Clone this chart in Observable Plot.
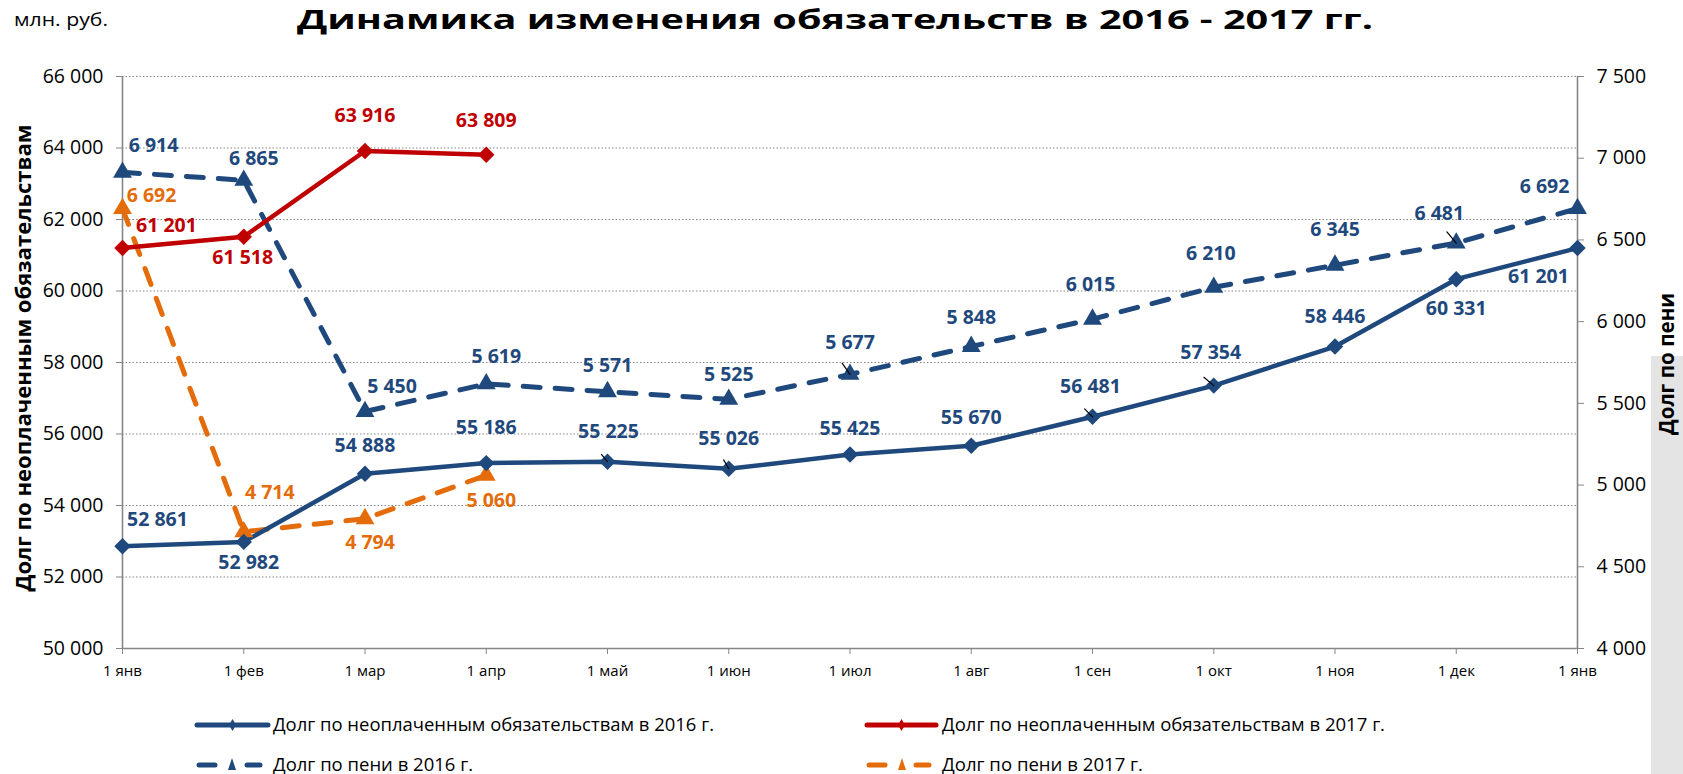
<!DOCTYPE html>
<html><head><meta charset="utf-8">
<script src="https://cdn.jsdelivr.net/npm/d3@7"></script>
<script src="https://cdn.jsdelivr.net/npm/@observablehq/plot@0.6"></script>
<style>
html,body{margin:0;padding:0;background:#fff;overflow:hidden}
#chart{position:relative;width:1683px;height:774px}
</style></head><body><div id="chart"></div>
<script>
// ---- data ----
const months = ["1 янв","1 фев","1 мар","1 апр","1 май","1 июн","1 июл","1 авг","1 сен","1 окт","1 ноя","1 дек","1 янв"];
const debt2016 = [52861, 52982, 54888, 55186, 55225, 55026, 55425, 55670, 56481, 57354, 58446, 60331, 61201];
const debt2017 = [61201, 61518, 63916, 63809];
const fine2016 = [6914, 6865, 5450, 5619, 5571, 5525, 5677, 5848, 6015, 6210, 6345, 6481, 6692];
const fine2017 = [6692, 4714, 4794, 5060];
const leftTicks = [50000, 52000, 54000, 56000, 58000, 60000, 62000, 64000, 66000];
const rightTicks = [4000, 4500, 5000, 5500, 6000, 6500, 7000, 7500];
const legendLabels = [
  "Долг по неоплаченным обязательствам в 2016 г.",
  "Долг по неоплаченным обязательствам в 2017 г.",
  "Долг по пени в 2016 г.",
  "Долг по пени в 2017 г."
];
const titleText = "Динамика изменения обязательств в 2016 - 2017 гг.";
const unitText = "млн. руб.";
const leftTitle = "Долг по неоплаченным обязательствам";
const rightTitle = "Долг по пени";

// ---- label offsets (px) ----
const debt2016Off = [[35,-26],[5,21],[0,-28],[0,-35],[1,-30],[0,-30],[0,-26],[0,-28],[-2,-30],[-3,-33],[0,-30],[0,30],[-39,29]];
const debt2017Off = [[44,-22],[-1,21],[0,-35],[0,-34]];
const fine2016Off = [[31,-27],[10,-22],[27,-25],[10,-27],[0,-26],[0,-25],[0,-32],[0,-29],[-2,-34],[-3,-34],[0,-36],[-17,-29],[-33,-22]];
const fine2017Off = [[29,-13],[26,-39],[5,24],[5,25]];
const leaders = [
  {s:"d16", i:4, len:11, rot:140}, {s:"d16", i:5, len:12, rot:150},
  {s:"f16", i:6, len:16, rot:145}, {s:"d16", i:8, len:13, rot:135},
  {s:"d16", i:9, len:15, rot:130}, {s:"f16", i:11, len:17, rot:140}
];

// ---- styles ----
const BLUE = "#1F497D", RED = "#C00000", ORANGE = "#E46C0A", GRAY = "#868686";
const FONT = "'Open Sans', 'Noto Sans', sans-serif";
const W = 1683, H = 774;
const L = [50000, 66000], R = [4000, 7500];
const toLeft = v => L[0] + (v - R[0]) * (L[1] - L[0]) / (R[1] - R[0]);
const fromLeft = v => R[0] + (v - L[0]) * (R[1] - R[0]) / (L[1] - L[0]);
const fmt = v => d3.format(",")(Math.round(v)).replace(/,/g, " ");

function rows(values, fine, key) { return values.map((v, i) => ({key, i, v, y: fine ? toLeft(v) : v})); }
const d16 = rows(debt2016, false, "d16");
const d17 = rows(debt2017, false, "d17");
const f16 = rows(fine2016, true, "f16");
const f17 = rows(fine2017, true, "f17");
const byKey = {d16, d17, f16, f17};

function labelMarks(data, offs, color) {
  return data.map((d, k) => Plot.text([d], {
    x: "i", y: "y", text: d => fmt(d.v), dx: offs[k][0], dy: offs[k][1],
    fill: color, fontWeight: "bold", fontSize: 19.5, fontFamily: FONT
  }));
}

const lineShape = { draw(context, l) { context.moveTo(0, 0); context.lineTo(0, -l); } };
const leaderData = leaders.map(l => ({...byKey[l.s][l.i], len: l.len, rot: l.rot}));

const chart = Plot.plot({
  width: W, height: H,
  marginTop: 76, marginBottom: H - 648, marginLeft: 122, marginRight: W - 1577,
  style: {fontFamily: FONT, fontSize: "18px", background: "white", color: "black", overflow: "visible"},
  x: {type: "linear", domain: [0, 12]},
  y: {domain: L},
  marks: [
    Plot.gridY(leftTicks.slice(1), {stroke: GRAY, strokeOpacity: 1, strokeWidth: 1, strokeDasharray: "1.5,2"}),
    Plot.ruleY([L[0]], {stroke: GRAY, strokeWidth: 1.6}),
    Plot.ruleX([0, 12], {stroke: GRAY, strokeWidth: 1.6}),
    Plot.axisY(leftTicks, {anchor: "left", tickSize: 6, tickPadding: 13, stroke: GRAY, fill: "black",
      tickFormat: fmt, fontSize: 19.5, label: null}),
    Plot.axisY(rightTicks.map(toLeft), {anchor: "right", tickSize: 6, tickPadding: 13, stroke: GRAY, fill: "black",
      tickFormat: d => fmt(fromLeft(d)), fontSize: 19.5, label: null}),
    Plot.axisX(d3.range(13), {anchor: "bottom", tickSize: 6, tickPadding: 11, stroke: GRAY, fill: "black",
      tickFormat: i => months[i], fontSize: 15, label: null}),
    // lines
    Plot.line(f16, {x: "i", y: "y", stroke: BLUE, strokeWidth: 5, strokeDasharray: "17,15", strokeLinecap: "round"}),
    Plot.line(f17, {x: "i", y: "y", stroke: ORANGE, strokeWidth: 5, strokeDasharray: "17,15", strokeLinecap: "round"}),
    Plot.line(d16, {x: "i", y: "y", stroke: BLUE, strokeWidth: 4.5, strokeLinejoin: "round"}),
    Plot.line(d17, {x: "i", y: "y", stroke: RED, strokeWidth: 4.5, strokeLinejoin: "round"}),
    Plot.dot(f16, {x: "i", y: "y", symbol: "triangle", r: 7, fill: BLUE}),
    Plot.dot(f17, {x: "i", y: "y", symbol: "triangle", r: 7, fill: ORANGE}),
    Plot.dot(d16, {x: "i", y: "y", symbol: "diamond2", r: 7.4, fill: BLUE}),
    Plot.dot(d17, {x: "i", y: "y", symbol: "diamond2", r: 7.4, fill: RED}),
    Plot.vector(leaderData, {x: "i", y: "y", length: "len", rotate: "rot", anchor: "end", shape: lineShape,
      stroke: "black", strokeWidth: 1.2}),
    ...labelMarks(d16, debt2016Off, BLUE),
    ...labelMarks(d17, debt2017Off, RED),
    ...labelMarks(f16, fine2016Off, BLUE),
    ...labelMarks(f17, fine2017Off, ORANGE)
  ]
});

const svg = d3.select(chart);
// gray panel at right (behind everything)
svg.insert("rect", ":first-child").attr("x", 1651).attr("y", 356).attr("width", 32).attr("height", H - 356).attr("fill", "#e4e4e4");
svg.insert("rect", ":first-child").attr("x", 0).attr("y", 0).attr("width", W).attr("height", H).attr("fill", "white");

const ann = svg.append("g").attr("font-family", FONT);
ann.append("text").attr("x", 835).attr("y", 29).attr("text-anchor", "middle")
  .attr("font-size", 27).attr("font-weight", "bold").attr("fill", "black")
  .attr("textLength", 1076).attr("lengthAdjust", "spacingAndGlyphs").text(titleText);
ann.append("text").attr("x", 14).attr("y", 26).attr("text-anchor", "start").attr("font-size", 18).attr("fill", "black")
  .attr("textLength", 94).attr("lengthAdjust", "spacingAndGlyphs").text(unitText);
ann.append("text").attr("transform", "translate(31,358) rotate(-90)").attr("text-anchor", "middle")
  .attr("font-size", 22).attr("font-weight", "bold").attr("fill", "black")
  .attr("textLength", 467).attr("lengthAdjust", "spacingAndGlyphs").text(leftTitle);
ann.append("text").attr("transform", "translate(1674,364) rotate(-90)").attr("text-anchor", "middle")
  .attr("font-size", 22).attr("font-weight", "bold").attr("fill", "black")
  .attr("textLength", 142).attr("lengthAdjust", "spacingAndGlyphs").text(rightTitle);

// legend
const leg = svg.append("g").attr("font-family", FONT);
const legendItems = [
  {x: 197, x2: 268, tx: 273, tw: 441, y: 725, color: BLUE, dashed: false},
  {x: 867, x2: 936, tx: 942, tw: 443, y: 725, color: RED, dashed: false},
  {x: 197, x2: 262, tx: 273, tw: 200, y: 765, color: BLUE, dashed: true},
  {x: 867, x2: 931, tx: 942, tw: 201, y: 765, color: ORANGE, dashed: true}
];
legendItems.forEach((it, k) => {
  const cx = (it.x + it.x2) / 2;
  if (!it.dashed) {
    leg.append("line").attr("x1", it.x).attr("x2", it.x2).attr("y1", it.y).attr("y2", it.y)
      .attr("stroke", it.color).attr("stroke-width", 5).attr("stroke-linecap", "round");
    leg.append("path").attr("d", "M0,-6L3.5,0L0,6L-3.5,0Z").attr("transform", `translate(${cx},${it.y})`).attr("fill", it.color);
  } else {
    leg.append("line").attr("x1", it.x + 2).attr("x2", it.x + 18).attr("y1", it.y).attr("y2", it.y)
      .attr("stroke", it.color).attr("stroke-width", 5).attr("stroke-linecap", "round");
    leg.append("line").attr("x1", it.x2 - 15).attr("x2", it.x2 - 2).attr("y1", it.y).attr("y2", it.y)
      .attr("stroke", it.color).attr("stroke-width", 5).attr("stroke-linecap", "round");
    leg.append("path").attr("d", "M0,-7L4,5L-4,5Z").attr("transform", `translate(${it.x + 35},${it.y})`).attr("fill", it.color);
  }
  leg.append("text").attr("x", it.tx).attr("y", it.y).attr("dy", "0.35em").attr("text-anchor", "start")
    .attr("font-size", 18).attr("fill", "black")
    .attr("textLength", it.tw).attr("lengthAdjust", "spacingAndGlyphs").text(legendLabels[k]);
});

document.getElementById("chart").appendChild(chart);
</script>
</body></html>
